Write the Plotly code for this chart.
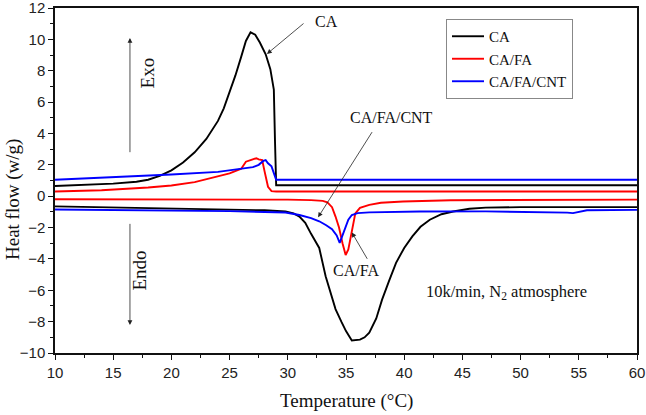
import plotly.graph_objects as go

# ---- data ----
ca_heat_x = [10, 13, 15, 17, 18, 19, 20, 21, 22, 23, 24, 24.5, 25, 25.5, 26, 26.4, 26.8, 27.2, 27.6, 28.1, 28.5, 28.8, 28.9, 29.0, 60]
ca_heat_y = [0.65, 0.72, 0.8, 0.92, 1.05, 1.3, 1.65, 2.15, 2.8, 3.65, 4.8, 5.6, 6.6, 7.7, 8.9, 9.9, 10.45, 10.3, 9.8, 9.05, 8.1, 6.8, 3.5, 0.7, 0.7]
ca_cool_x = [10, 15, 20, 25, 28, 29.8, 30.5, 31.0, 31.5, 32.0, 32.7, 33.25, 34.1, 34.6, 35.0, 35.5, 36.2, 36.6, 37.0, 37.6, 38.1, 38.7, 39.3, 40.0, 40.7, 41.4, 42.2, 43.2, 44.2, 45.6, 47, 50, 60]
ca_cool_y = [-0.65, -0.72, -0.78, -0.85, -0.9, -0.98, -1.1, -1.3, -1.7, -2.4, -3.3, -5.1, -7.2, -8.0, -8.6, -9.2, -9.15, -9.0, -8.7, -7.8, -6.6, -5.4, -4.25, -3.3, -2.56, -1.95, -1.5, -1.15, -0.98, -0.8, -0.73, -0.7, -0.7]

fa_heat_x = [10, 14, 18, 20, 22, 24, 25, 26, 26.4, 26.8, 27.0, 27.3, 27.5, 27.8, 28.0, 28.3, 28.6, 29, 60]
fa_heat_y = [0.3, 0.38, 0.55, 0.68, 0.9, 1.25, 1.45, 1.75, 2.2, 2.3, 2.35, 2.42, 2.35, 2.3, 1.6, 0.6, 0.32, 0.3, 0.3]
fa_cool_x = [10, 20, 30, 32, 33, 33.4, 33.8, 34.1, 34.4, 34.7, 34.97, 35.2, 35.4, 35.6, 35.8, 36.2, 37.0, 38, 39.9, 44, 50, 60]
fa_cool_y = [-0.2, -0.2, -0.22, -0.25, -0.3, -0.4, -0.7, -1.3, -2.0, -3.0, -3.75, -3.4, -2.6, -1.7, -1.1, -0.75, -0.55, -0.42, -0.34, -0.26, -0.23, -0.22]

cnt_heat_x = [10, 15, 20, 24, 26.3, 27.0, 27.5, 27.9, 28.1, 28.3, 28.6, 28.8, 29.0, 60]
cnt_heat_y = [1.05, 1.2, 1.38, 1.55, 1.75, 1.85, 2.0, 2.25, 2.3, 2.1, 1.9, 1.5, 1.05, 1.05]
cnt_cool_x = [10, 15, 20, 25, 29.8, 31, 32, 32.7, 33.3, 33.8, 34.2, 34.46, 34.7, 34.97, 35.2, 35.5, 36, 37, 41.3, 47, 53, 54, 54.5, 55, 55.7, 60]
cnt_cool_y = [-0.85, -0.88, -0.9, -0.95, -1.04, -1.2, -1.4, -1.6, -1.85, -2.1, -2.5, -2.98, -2.5, -1.93, -1.5, -1.2, -1.08, -1.03, -0.98, -0.97, -1.0, -1.05, -1.08, -1.0, -0.9, -0.87]

series_names = ["CA", "CA/FA", "CA/FA/CNT"]
series_colors = ["#000000", "#ff0000", "#0000ff"]

x_ticks = [10, 15, 20, 25, 30, 35, 40, 45, 50, 55, 60]
y_ticks = [-10, -8, -6, -4, -2, 0, 2, 4, 6, 8, 10, 12]

SERIF = "Liberation Serif, Times New Roman, serif"
SANS = "Liberation Sans, Arial, sans-serif"

fig = go.Figure()
data = [
    (ca_heat_x, ca_heat_y, ca_cool_x, ca_cool_y),
    (fa_heat_x, fa_heat_y, fa_cool_x, fa_cool_y),
    (cnt_heat_x, cnt_heat_y, cnt_cool_x, cnt_cool_y),
]
for name, color, (hx, hy, cx, cy) in zip(series_names, series_colors, data):
    fig.add_trace(go.Scatter(
        x=hx + [None] + cx, y=hy + [None] + cy, mode="lines", name=name,
        line=dict(color=color, width=1.9),
        connectgaps=False,
    ))

annotations = []

def arrow(x, y, ax, ay, head=2):
    annotations.append(dict(x=x, y=y, ax=ax, ay=ay, xref="x", yref="y", axref="x", ayref="y",
                            text="", showarrow=True, arrowhead=head, arrowsize=1.2,
                            arrowwidth=0.8, arrowcolor="#222"))

arrow(28.21, 9.07, 31.48, 11.09)
arrow(32.6, -1.35, 37.32, 4.18)
arrow(35.5, -2.31, 36.9, -4.09)
arrow(16.44, 10.09, 16.44, 2.71)
arrow(16.44, -8.21, 16.44, -1.67)

def label(x, y, t, angle=0, size=16):
    annotations.append(dict(x=x, y=y, xref="x", yref="y", text=t, showarrow=False,
                            textangle=angle, font=dict(family=SERIF, size=size, color="#111")))

label(33.3, 11.17, "CA")
label(38.95, 5.0, "CA/FA/CNT")
label(35.86, -4.72, "CA/FA")
label(48.75, -6.1, "10k/min, N<sub>2</sub> atmosphere", size=16.5)
label(17.95, 7.86, "Exo", angle=-90, size=19)
label(17.25, -4.72, "Endo", angle=-90, size=19)

W, H = 646, 415
L, R, T, B = 55, 9, 8, 62
pw, ph = W - L - R, H - T - B

def px_to_paper(px, py):
    return (px - L) / pw, (H - B - py) / ph

tx, ty = px_to_paper(346, 401)
annotations.append(dict(x=tx, y=ty, xref="paper", yref="paper", text="Temperature (°C)",
                        xanchor="center", yanchor="middle",
                        showarrow=False, font=dict(family=SERIF, size=19, color="#111")))
hx_, hy_ = px_to_paper(13, 200)
annotations.append(dict(x=hx_, y=hy_, xref="paper", yref="paper", text="Heat flow (w/g)",
                        xanchor="center", yanchor="middle",
                        showarrow=False, textangle=-90, font=dict(family=SERIF, size=19, color="#111")))

lx, ly = px_to_paper(446, 19)
fig.update_layout(
    width=W, height=H,
    margin=dict(l=L, r=R, t=T, b=B, autoexpand=False),
    paper_bgcolor="white", plot_bgcolor="white",
    showlegend=True,
    legend=dict(x=lx, y=ly, xanchor="left", yanchor="top",
                bordercolor="#888", borderwidth=1, bgcolor="white",
                font=dict(family=SERIF, size=15, color="#111"),
                itemwidth=32, tracegroupgap=0),
    annotations=annotations,
)
fig.update_xaxes(
    range=[10, 60], tickvals=x_ticks, ticks="outside", ticklen=5, tickwidth=1,
    tickcolor="#111", showline=True, linecolor="#111", linewidth=1.5, mirror=True,
    showgrid=False, zeroline=False, automargin=False, ticklabeloverflow="allow",
    minor=dict(dtick=2.5, ticks="outside", ticklen=3, tickcolor="#111"),
    tickfont=dict(family=SANS, size=15, color="#222"),
)
fig.update_yaxes(
    range=[-10, 12], tickvals=y_ticks, ticks="outside", ticklen=5, tickwidth=1,
    tickcolor="#111", showline=True, linecolor="#111", linewidth=1.5, mirror=True,
    showgrid=False, zeroline=False, automargin=False, ticklabeloverflow="allow",
    minor=dict(dtick=1, ticks="outside", ticklen=3, tickcolor="#111"),
    tickfont=dict(family=SANS, size=15, color="#222"),
)

# remove the browser's default 8px body margin so the figure fills the window
fig.write_html("out.html", config={"displayModeBar": False},
               post_script="document.body.style.margin='0px';document.body.style.overflow='hidden';")
